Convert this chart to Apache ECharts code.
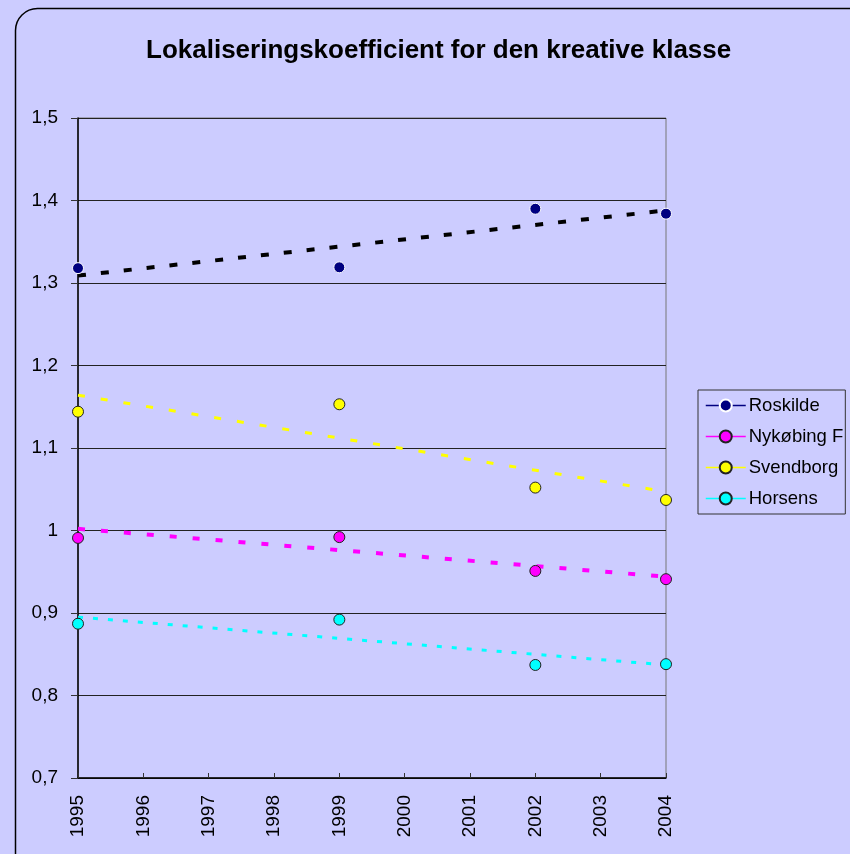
<!DOCTYPE html>
<html>
<head>
<meta charset="utf-8">
<script src="https://cdn.jsdelivr.net/npm/echarts@6/dist/echarts.min.js"></script>
<style>
html, body { margin: 0; padding: 0; background: #CCCCFF; }
#main { width: 850px; height: 854px; }
</style>
</head>
<body>
<div id="main"></div>
<script>
// data
var years = [1995, 1999, 2002, 2004];
var roskilde = [1.318, 1.319, 1.390, 1.384];
var nykobing = [0.991, 0.992, 0.951, 0.941];
var svendborg = [1.144, 1.153, 1.052, 1.037];
var horsens = [0.887, 0.892, 0.837, 0.838];

// trend line ends (1995, 2004)
var trendYears = [1995, 2004];
var roskildeTrend = [1.309, 1.388];
var nykobingTrend = [1.002, 0.944];
var svendborgTrend = [1.164, 1.047];
var horsensTrend = [0.895, 0.837];

var names = ['Roskilde', 'Nykøbing F', 'Svendborg', 'Horsens'];
var colors = ['#000080', '#FF00FF', '#FFFF00', '#00FFFF'];

function pairs(xs, ys) {
    var arr = [];
    for (var i = 0; i < xs.length; i++) {
        arr.push([xs[i], ys[i]]);
    }
    return arr;
}

var chart = echarts.init(document.getElementById('main'));

var pointSets = [roskilde, nykobing, svendborg, horsens];
var trendSets = [roskildeTrend, nykobingTrend, svendborgTrend, horsensTrend];
var trendStyle = [
    {width: 4, dash: [8, 15], color: '#000000'},
    {width: 4, dash: [7, 16], color: '#FF00FF'},
    {width: 3, dash: [7, 16], color: '#FFFF00'},
    {width: 3, dash: [5, 10], color: '#00FFFF'}
];

var series = [];
for (var i = 0; i < trendSets.length; i++) {
    series.push({
        name: names[i] + ' trend',
        type: 'line',
        data: pairs(trendYears, trendSets[i]),
        showSymbol: false,
        symbol: 'none',
        silent: true,
        z: 2,
        lineStyle: {
            color: trendStyle[i].color,
            width: trendStyle[i].width,
            type: trendStyle[i].dash,
            cap: 'butt'
        }
    });
}
for (var j = 0; j < pointSets.length; j++) {
    series.push({
        name: names[j],
        type: 'line',
        data: pairs(years, pointSets[j]),
        symbol: 'circle',
        symbolSize: 11,
        z: 5,
        color: colors[j],
        lineStyle: {width: 0, opacity: 0},
        itemStyle: {
            color: colors[j],
            borderColor: j === 0 ? '#FFFFFF' : '#222222',
            borderWidth: 1
        }
    });
}

var option = {
    backgroundColor: '#CCCCFF',
    animation: false,
    title: {
        text: 'Lokaliseringskoefficient for den kreative klasse',
        left: 141,
        top: 33,
        textStyle: {
            fontFamily: 'Liberation Sans',
            fontSize: 26,
            fontWeight: 'bold',
            color: '#000'
        }
    },
    graphic: [{
        type: 'rect',
        shape: {x: 15.5, y: 8.5, width: 860, height: 870, r: 22},
        style: {fill: 'none', stroke: '#000', lineWidth: 1.5},
        silent: true,
        z: -1
    }],
    legend: {
        orient: 'vertical',
        left: 698,
        top: 390,
        padding: [6, 2, 6, 7],
        itemGap: 12,
        itemWidth: 40,
        itemHeight: 15,
        borderColor: '#333',
        borderWidth: 1,
        backgroundColor: '#CCCCFF',
        data: names,
        lineStyle: {width: 1.5, opacity: 1, type: 'solid'},
        textStyle: {
            fontFamily: 'Liberation Sans',
            fontSize: 18.5,
            color: '#000',
            padding: [0, 0, 0, -2]
        }
    },
    grid: {
        left: 78,
        right: 184,
        top: 118,
        bottom: 76,
        show: true,
        backgroundColor: '#CCCCFF',
        borderColor: '#777',
        borderWidth: 1
    },
    xAxis: {
        type: 'value',
        min: 1995,
        max: 2004,
        interval: 1,
        splitLine: {show: false},
        axisLine: {lineStyle: {color: '#000', width: 1.5}},
        axisTick: {inside: true, length: 5, lineStyle: {color: '#333'}},
        axisLabel: {
            rotate: 90,
            margin: 17,
            fontFamily: 'Liberation Sans',
            fontSize: 19,
            color: '#000',
            formatter: function (v) { return String(v); }
        }
    },
    yAxis: {
        type: 'value',
        min: 0.7,
        max: 1.5,
        interval: 0.1,
        splitLine: {lineStyle: {color: '#222', width: 1}},
        axisLine: {show: true, lineStyle: {color: '#000', width: 1.5}},
        axisTick: {show: true, length: 7, lineStyle: {color: '#333'}},
        axisLabel: {
            margin: 20,
            fontFamily: 'Liberation Sans',
            fontSize: 19,
            color: '#000',
            formatter: function (v) {
                return String(+v.toFixed(1)).replace('.', ',');
            }
        }
    },
    series: series
};

chart.setOption(option, true);
</script>
</body>
</html>
